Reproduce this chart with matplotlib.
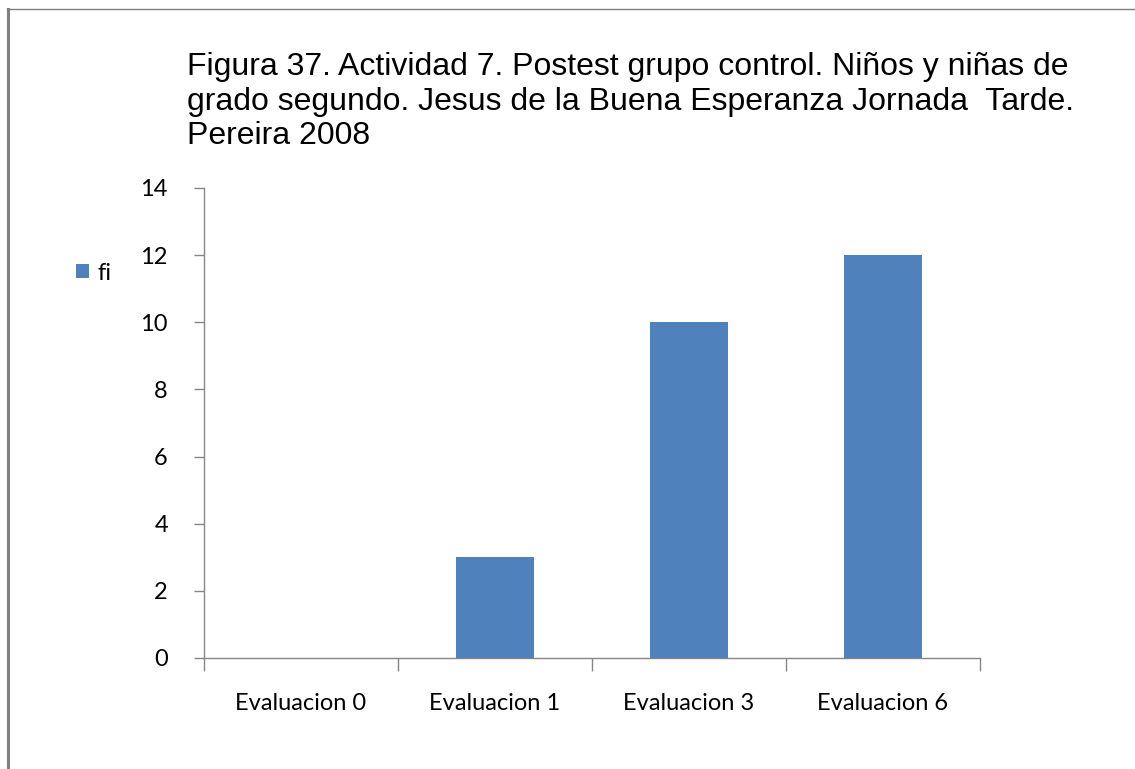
import matplotlib
matplotlib.use("Agg")
import matplotlib.pyplot as plt
from matplotlib.lines import Line2D
from matplotlib.patches import Patch

categories = ["Evaluacion 0", "Evaluacion 1", "Evaluacion 3", "Evaluacion 6"]
fi_values = [0, 3, 10, 12]
y_ticks = [0, 2, 4, 6, 8, 10, 12, 14]
series_name = "fi"
title = ("Figura 37. Actividad 7. Postest grupo control. Niños y niñas de\n"
         "grado segundo. Jesus de la Buena Esperanza Jornada  Tarde.\n"
         "Pereira 2008")

W, H = 1135, 769
fig = plt.figure(figsize=(W / 100, H / 100), dpi=100)
fig.patch.set_facecolor("white")

bar_color = "#4F81BD"
axis_color = "#868686"

# frame lines along the left and top edges
fig.add_artist(Line2D([8 / W, 8 / W], [0, 1 - 9 / H], color="#808080", lw=2.2,
                      transform=fig.transFigure))
fig.add_artist(Line2D([7 / W, 1], [1 - 9 / H, 1 - 9 / H], color="#808080", lw=1.0,
                      transform=fig.transFigure))

left, right = 204 / W, 980 / W
bottom, top = 1 - 658 / H, 1 - 188 / H
ax = fig.add_axes([left, bottom, right - left, top - bottom])

x = list(range(len(categories)))
ax.bar(x, fi_values, width=0.4, color=bar_color, zorder=3)

ax.set_xlim(-0.5, len(categories) - 0.5)
ax.set_ylim(0, 14)
ax.set_yticks(y_ticks)
ax.set_yticklabels([str(v) for v in y_ticks], fontfamily="Lato", fontsize=17, color="#000000")
ax.set_xticks(x)
ax.set_xticklabels(categories, fontfamily="Lato", fontsize=17, color="#000000")
ax.tick_params(axis="x", length=0, pad=25)
ax.tick_params(axis="y", length=7, color=axis_color, width=1, pad=19)

# category boundary ticks on x axis
ax.set_xticks([i - 0.5 for i in range(len(categories) + 1)], minor=True)
ax.tick_params(axis="x", which="minor", length=9, color=axis_color, width=1)

for s in ["top", "right"]:
    ax.spines[s].set_visible(False)
for s in ["left", "bottom"]:
    ax.spines[s].set_color(axis_color)
    ax.spines[s].set_linewidth(1)

fig.text(187 / W, 1 - 52 / H, title, fontfamily="Liberation Sans", fontsize=23,
         va="top", ha="left", linespacing=1.2, color="#000000")

handle = Patch(facecolor=bar_color, edgecolor="none")
fig.legend([handle], [series_name], loc="center left",
           bbox_to_anchor=(76 / W, 1 - 273 / H), frameon=False,
           prop={"family": "Lato", "size": 17}, handlelength=0.55, handleheight=0.55,
           handletextpad=0.35, borderpad=0, borderaxespad=0)

fig.savefig("out.png", dpi=100, facecolor="white")
